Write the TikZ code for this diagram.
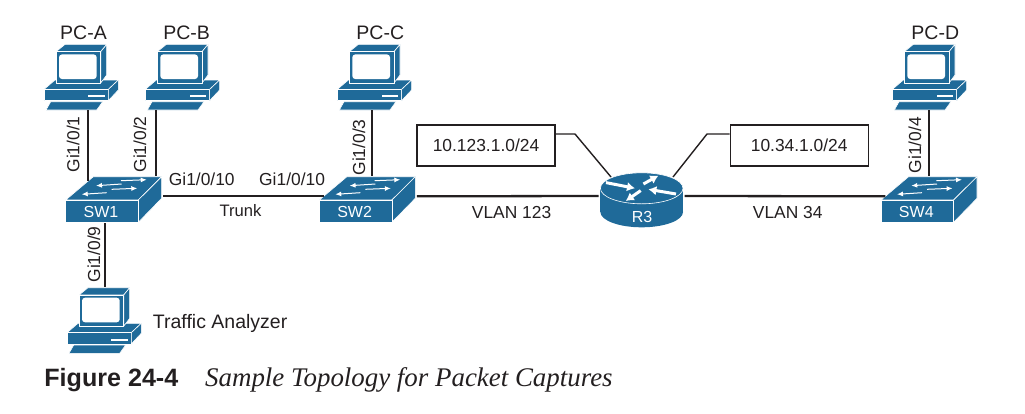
\documentclass[tikz,border=0pt]{standalone}
\usepackage{fontspec}
\setmainfont{Liberation Sans}
\newfontfamily\capfont{Liberation Serif}
\usepackage{tikz}
\usetikzlibrary{arrows.meta}
\tikzset{>=latex}
\definecolor{devblue}{RGB}{31,106,153}
\definecolor{inkdark}{RGB}{35,31,32}
\tikzset{
    face/.style={fill=devblue, draw=white, line width=.6, line join=round},
    link/.style={inkdark, line width=2.3},
    calloutline/.style={inkdark, line width=1.4},
    swarrow/.style={white, line width=1, -{Latex[length=6pt,width=5pt]}},
    rarrow/.style={white, line width=3, -{Latex[length=8pt,width=9.5pt]}},
    devtext/.style={white, font=\fontsize{16}{18}\selectfont},
    pclabel/.style={inkdark, anchor=base, font=\fontsize{19.5}{22}\selectfont},
    portlabel/.style={inkdark, anchor=base west, inner sep=0, font=\fontsize{17.4}{20}\selectfont},
    uplabel/.style={portlabel, rotate=90},
    netbox/.style={draw=inkdark, line width=1.4, fill=white, text=inkdark, minimum width=138, minimum height=41,
        inner sep=0, font=\fontsize{17.4}{20}\selectfont},
    pcicon/.pic={
        \path[face] (-12,37.7)--(-1,28.3)--(62.3,28.3)--(52.3,37.7)--cycle;
        \path[face] (-12,37.7) rectangle (52.3,49);
        \path[face] (52.3,37.7)--(62.3,28.3)--(62.3,38.3)--(52.3,49)--cycle;
        \path[face] (0,0)--(9,-7.3)--(50.7,-7.3)--(44.7,0)--cycle;
        \path[face] (44.7,0)--(50.7,-7.3)--(50.7,23.3)--(44.7,31.3)--cycle;
        \path[face] (0,0) rectangle (44.7,31.3);
        \fill[white, rounded corners=3] (3,2.7) rectangle (40.7,27.3);
        \fill[white] (32.3,43.7) rectangle (49,45.7);
        \path[face] (-5.3,50)--(46.7,50)--(40.7,58.3)--(-10,58.3)--cycle;
    },
    switchicon/.pic={
        \path[face] (0,0)--(27.6,-23.3)--(96,-23.3)--(72.6,0)--cycle;
        \path[face] (72.6,0)--(96,-23.3)--(96,-1.7)--(72.6,22.3)--cycle;
        \path[face] (0,0) rectangle (72.6,22.3);
        \draw[swarrow] (55.3,-19.3)--(81,-20.3);
        \draw[swarrow] (56,-16)--(30.3,-14.3);
        \draw[swarrow] (46,-10.7)--(71.6,-11.7);
        \draw[swarrow] (41,-7.3)--(16,-5.7);
        \node[devtext] (-label) at (35.3,11.7) {#1};
        \coordinate (-east) at (97.6,-3.7);
        \coordinate (-west) at (4.4,-3.7);
    },
    routericon/.pic={
        \fill[devblue] (0,23.7) ellipse[x radius=41.3, y radius=15.3];
        \fill[devblue] (-41.3,0) rectangle (41.3,23.7);
        \path[face] (0,0) ellipse[x radius=41.3, y radius=15.5];
        \draw[rarrow] (-35.7,-5.7)--(-6.7,0);
        \draw[rarrow] (1.7,-4.3)--(16.7,-12.7);
        \draw[rarrow] (34.3,5.7)--(6.7,1);
        \draw[rarrow] (-1,2.3)--(-16,12.7);
        \node[devtext] (-label) at (0.3,28.5) {#1};
        \coordinate (-east) at (43,7.7);
        \coordinate (-west) at (-43,7.7);
        \coordinate (-nw) at (-30.7,-11.3);
        \coordinate (-ne) at (31.3,-11.3);
    }
}

\begin{document}
\begin{tikzpicture}[x=1pt, y=-1pt]
    \useasboundingbox (0,0) rectangle (1025,413);
    \pic (pca) at (56,51.7) {pcicon};
    \pic (pcb) at (157.3,51.7) {pcicon};
    \pic (pcc) at (349.3,51.7) {pcicon};
    \pic (pcd) at (904.3,51.7) {pcicon};
    \pic (ta) at (79,295) {pcicon};
    \pic (sw1) at (65.7,200) {switchicon=SW1};
    \pic (sw2) at (319.3,200) {switchicon=SW2};
    \pic (sw4) at (881,200) {switchicon=SW4};
    \pic (r3) at (641.7,188.3) {routericon=R3};

    \node[pclabel] (pca-label) at (83.5,39) {PC-A};
    \node[pclabel] (pcb-label) at (186.7,39) {PC-B};
    \node[pclabel] (pcc-label) at (380.3,39) {PC-C};
    \node[pclabel] (pcd-label) at (935.3,39) {PC-D};
    \node[pclabel, anchor=base west, inner sep=0] (ta-label) at (152.7,328.3) {Traffic Analyzer};

    \coordinate (pca-p) at (88.3,110.3);
    \coordinate (pcb-p) at (156,110.3);
    \coordinate (pcc-p) at (371.7,110.3);
    \coordinate (pcd-p) at (929,110.3);
    \coordinate (ta-p) at (105,287);
    \coordinate (sw1-a) at (88.3,181);
    \coordinate (sw1-b) at (156,176);
    \coordinate (sw1-c) at (105,223);
    \coordinate (sw2-c) at (371.7,175.5);
    \coordinate (sw4-d) at (929,175.5);
    \draw[link] (pca-p)--(sw1-a);
    \draw[link] (pcb-p)--(sw1-b);
    \draw[link] (pcc-p)--(sw2-c);
    \draw[link] (pcd-p)--(sw4-d);
    \draw[link] (sw1-c)--(ta-p);
    \draw[link] (sw1-east)--(sw2-west);
    \draw[link] (sw2-east)--(r3-west);
    \draw[link] (r3-east)--(sw4-west);

    \node[netbox] (neta) at (486,145.5) {10.123.1.0/24};
    \node[netbox] (netb) at (799.2,145.5) {10.34.1.0/24};
    \coordinate (neta-p) at (neta.east |- 0,134);
    \coordinate (netb-p) at (netb.west |- 0,134);
    \draw[calloutline] (neta-p)--(575,134)--(r3-nw);
    \draw[calloutline] (netb-p)--(707,134)--(r3-ne);

    \node[uplabel] (gi-a) at (79.3,172.7) {Gi1/0/1};
    \node[uplabel] (gi-b) at (146,172.7) {Gi1/0/2};
    \node[uplabel] (gi-c) at (365,175.7) {Gi1/0/3};
    \node[uplabel] (gi-d) at (921,173.3) {Gi1/0/4};
    \node[uplabel] (gi-e) at (100,282.7) {Gi1/0/9};
    \node[portlabel] (gi-f) at (168.7,185.7) {Gi1/0/10};
    \node[portlabel] (gi-g) at (259,185.7) {Gi1/0/10};
    \node[portlabel, font=\fontsize{16.6}{20}\selectfont] (trunk) at (219.3,216) {Trunk};
    \node[portlabel] (vlana) at (471.7,218) {VLAN 123};
    \node[portlabel] (vlanb) at (752.7,218) {VLAN 34};

    \node[inkdark, anchor=base west, inner sep=0, font=\fontsize{25.1}{28}\selectfont\bfseries] (fignum) at (44.2,386.3) {Figure 24-4};
    \node[inkdark, anchor=base west, inner sep=0, font=\fontsize{26.9}{30}\capfont\itshape] (figcap) at (205,386.3) {Sample Topology for Packet Captures};
\end{tikzpicture}
\end{document}
